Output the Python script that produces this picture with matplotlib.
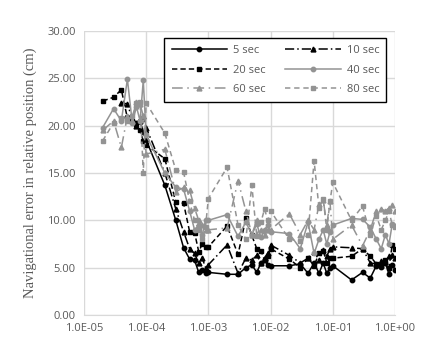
import numpy as np
import matplotlib.pyplot as plt
from matplotlib.ticker import FixedLocator, FuncFormatter

# ---------- data ----------
x_vals = [2e-5, 3e-5, 4e-5, 5e-5, 6e-5, 7e-5, 8e-5, 9e-5,
          1e-4, 2e-4, 3e-4, 4e-4, 5e-4, 6e-4, 7e-4, 8e-4, 9e-4,
          1e-3, 2e-3, 3e-3, 4e-3, 5e-3, 6e-3, 7e-3, 8e-3, 9e-3,
          1e-2, 2e-2, 3e-2, 4e-2, 5e-2, 6e-2, 7e-2, 8e-2, 9e-2,
          1e-1, 2e-1, 3e-1, 4e-1, 5e-1, 6e-1, 7e-1, 8e-1, 9e-1,
          1.0]

nan = np.nan
y_5 = [nan, nan, nan, 20.9, 20.5, 20.3, 20.5, 19.3,
       18.5, 13.7, 10.0, 7.1, 5.9, 5.8, 4.5, 4.8, 4.4,
       4.5, 4.3, 4.3, 5.0, 5.3, 4.5, 5.5, 5.8, 5.3,
       5.2, 5.2, 5.4, 4.4, 5.5, 4.4, 5.5, 4.4, 5.0,
       5.2, 3.7, 4.5, 3.9, 5.2, 5.1, 5.5, 4.3, 5.3,
       4.8]
y_10 = [nan, nan, 22.4, 22.3, 20.7, 20.0, 20.5, 21.0,
        19.8, 15.0, 11.2, 8.8, 7.0, 6.5, 5.5, 6.0, 5.0,
        5.3, 7.4, 4.4, 6.0, 5.8, 6.3, 5.5, 6.0, 6.5,
        7.4, 6.3, 5.5, 6.0, 6.7, 5.8, 6.9, 6.2, 7.0,
        7.2, 7.1, 7.0, 5.5, 5.4, 5.7, 5.6, 6.2, 6.3,
        6.0]
y_20 = [22.6, 23.0, 23.8, 20.8, 20.5, 20.2, 19.5, 18.4,
        18.0, 16.5, 11.9, 11.8, 8.8, 8.7, 6.7, 7.5, 7.2,
        7.2, 9.4, 6.4, 10.2, 8.4, 7.0, 6.8, 5.8, 6.2,
        7.0, 5.9, 5.0, 6.0, 5.2, 6.5, 6.8, 5.5, 6.0,
        6.0, 6.2, 7.0, 6.2, 5.4, 5.2, 5.8, 5.0, 7.4,
        7.0]
y_40 = [19.8, 21.8, 20.5, 24.9, 20.3, 22.0, 20.5, 24.8,
        19.0, 15.0, 13.5, 13.3, 11.0, 9.0, 9.5, 8.5, 10.0,
        10.0, 10.6, 8.3, 9.8, 8.5, 9.6, 8.2, 9.0, 9.5,
        8.8, 8.6, 7.0, 9.8, 6.5, 8.0, 9.0, 7.5, 8.8,
        9.5, 10.2, 10.1, 9.3, 8.0, 7.0, 8.5, 7.5, 9.6,
        9.4]
y_60 = [19.5, 20.5, 17.7, 21.0, 20.5, 22.5, 22.3, 21.0,
        17.0, 17.5, 13.0, 13.5, 13.2, 11.3, 10.0, 9.5, 9.0,
        9.0, 9.2, 14.2, 11.0, 8.5, 10.0, 9.0, 8.5, 9.0,
        9.0, 10.7, 8.5, 10.0, 9.0, 11.7, 12.2, 9.5, 12.0,
        8.0, 9.5, 7.3, 9.0, 11.0, 11.2, 11.0, 11.3, 11.6,
        11.0]
y_80 = [18.4, 20.3, 20.8, 20.5, 21.0, 22.4, 22.5, 15.0,
        22.4, 19.2, 15.3, 15.1, 12.0, 10.0, 9.0, 8.0, 9.3,
        12.3, 15.6, 9.5, 8.0, 13.7, 8.3, 9.8, 11.2, 10.0,
        11.0, 8.0, 7.8, 8.5, 16.3, 11.3, 12.3, 9.0, 12.0,
        14.0, 10.0, 11.5, 8.5, 10.5, 9.0, 10.0, 11.0, 9.5,
        9.3]

labels = ['5 sec', '10 sec', '20 sec', '40 sec', '60 sec', '80 sec']
series = [y_5, y_10, y_20, y_40, y_60, y_80]

# ---------- styles ----------
gray = '#939393'
styles = [
    dict(color='black', linestyle='-', marker='o', ms=3.2),
    dict(color='black', linestyle=(0, (6, 2, 1, 2)), marker='^', ms=3.5),
    dict(color='black', linestyle=(0, (3.5, 2)), marker='s', ms=3.5),
    dict(color=gray, linestyle='-', marker='o', ms=3.2),
    dict(color=gray, linestyle=(0, (7, 3, 1, 3)), marker='^', ms=3.5),
    dict(color=gray, linestyle=(0, (3.5, 2.5)), marker='s', ms=3.5),
]

fig = plt.figure(figsize=(4.28, 3.51), dpi=100)
ax = fig.add_axes([0.196, 0.1026, 0.727, 0.809])

lines = []
for y, lab, st in zip(series, labels, styles):
    ln, = ax.plot(x_vals, y, label=lab, lw=1.1, zorder=3, **st)
    lines.append(ln)

ax.set_xscale('log')
ax.set_xlim(1e-5, 1.0)
ax.set_ylim(0, 30)
ax.xaxis.set_major_locator(FixedLocator([1e-5, 1e-4, 1e-3, 1e-2, 1e-1, 1.0]))
ax.xaxis.set_minor_locator(FixedLocator([]))
ax.xaxis.set_major_formatter(FuncFormatter(lambda v, p: '%.1E' % v))
ax.set_yticks([0, 5, 10, 15, 20, 25, 30])
ax.yaxis.set_major_formatter(FuncFormatter(lambda v, p: '%.2f' % v))

ax.grid(True, color='#d9d9d9', lw=1.0, zorder=0)
ax.set_axisbelow(True)
for s in ['top', 'right', 'left']:
    ax.spines[s].set_visible(False)
ax.spines['bottom'].set_color('#d9d9d9')
ax.tick_params(length=0, labelsize=8, labelcolor='#595959', pad=6)
for lbl in ax.get_xticklabels() + ax.get_yticklabels():
    lbl.set_family('Open Sans')

ax.set_ylabel('Navigational error in relative position (cm)',
              family='Liberation Serif', fontsize=10.5, color='#595959', labelpad=7)

# legend reads row-wise: 5/10, 20/40, 60/80
order = [0, 2, 4, 1, 3, 5]
leg = ax.legend([lines[i] for i in order], [labels[i] for i in order],
                ncol=2, loc='upper right', bbox_to_anchor=(0.99, 0.995),
                fancybox=False, framealpha=1, edgecolor='black',
                prop={'family': 'Open Sans', 'size': 8},
                handlelength=5.0, columnspacing=1.8, labelspacing=0.75,
                borderpad=0.65, handletextpad=0.5)
leg.get_frame().set_linewidth(1.0)
for t in leg.get_texts():
    t.set_color('#595959')

fig.savefig('out.png', dpi=100)
